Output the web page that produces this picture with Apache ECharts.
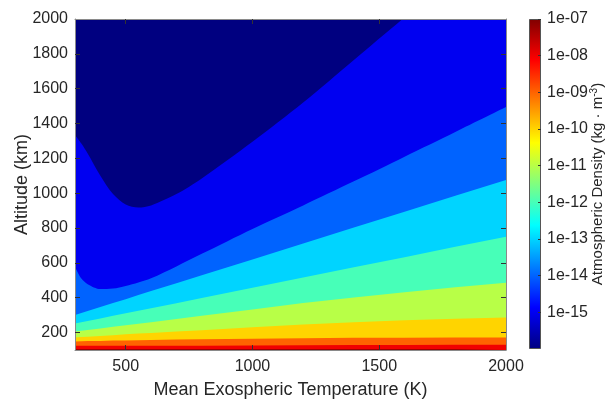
<!DOCTYPE html>
<html>
<head>
<meta charset="utf-8">
<script src="https://cdn.jsdelivr.net/npm/echarts@6/dist/echarts.min.js"></script>
<style>
  html, body { margin: 0; padding: 0; background: #ffffff; }
  #chart { width: 614px; height: 400px; }
</style>
</head>
<body>
<div id="chart"></div>
<script>
// Mean exospheric temperature samples (K)
const temperatures = [300, 325, 350, 400, 450, 500, 550, 600, 700, 800, 1000, 1200, 1400, 1600, 1800, 2000];

// Altitude (km) of each density contour at the temperatures above
const level1e15 = [1334, 1285, 1228, 1100, 995, 935, 918, 930, 995, 1085, 1295, 1520, 1765, 2010, 2260, 2510];
const level1e14 = [578, 510, 478, 450, 453, 468, 488, 512, 580, 652, 795, 930, 1068, 1210, 1352, 1495];
const level1e13 = [301, 312, 324, 347, 370, 392, 415, 438, 483, 529, 620, 712, 803, 894, 985, 1076];
const level1e12 = [252, 259, 267, 281, 296, 311, 325, 340, 369, 398, 457, 516, 575, 633, 692, 750];
const level1e11 = [206, 211, 215, 224, 233, 242, 251, 260, 278, 296, 333, 370, 401, 432, 460, 486];
const level1e10 = [172, 174, 176, 181, 185, 190, 194, 198, 206, 214, 230, 246, 260, 271, 280, 287];
const level1e09 = [149, 150, 151, 152, 154, 155, 156, 158, 160, 162, 165, 168, 170, 171, 172, 172];
const level1e08 = [124, 124, 124, 124, 124, 125, 125, 125, 125, 125, 126, 127, 128, 129, 130, 130];
const level1e07 = [105, 105, 105, 105, 105, 105, 105, 105, 105, 105, 105, 105, 105, 105, 105, 105];

// Axis ticks
const temperatureTicks = [500, 1000, 1500, 2000];
const altitudeTicks = [200, 400, 600, 800, 1000, 1200, 1400, 1600, 1800, 2000];
// Colour bar: decades above 1e-16
const colorbarTicks = ['1e-15', '1e-14', '1e-13', '1e-12', '1e-11', '1e-10', '1e-09', '1e-08', '1e-07'];

// Jet colormap sampled at each filled band (lowest density first)
const lowestBandColor = '#000080';
const bandColors = ['#0000F1', '#0063FF', '#00D4FF', '#47FFB8', '#B8FF47', '#FFD400', '#FF6300', '#F10000', '#800000'];
const jetStops = [
  { offset: 0, color: '#000080' },
  { offset: 0.125, color: '#0000FF' },
  { offset: 0.375, color: '#00FFFF' },
  { offset: 0.625, color: '#FFFF00' },
  { offset: 0.875, color: '#FF0000' },
  { offset: 1, color: '#800000' }
];

const contourLevels = [level1e15, level1e14, level1e13, level1e12, level1e11, level1e10, level1e09, level1e08, level1e07];

const textColor = '#262626';
const fontFamily = '"Liberation Sans", Arial, Helvetica, sans-serif';
const plainNumber = (v) => String(Math.round(v));

const chart = echarts.init(document.getElementById('chart'), null, { renderer: 'canvas' });

// Each contour is filled from its line down to the bottom of the plot;
// higher-density bands are painted over lower-density ones.
const bandSeries = contourLevels.map((alts, i) => ({
  type: 'line',
  xAxisIndex: 0,
  yAxisIndex: 0,
  data: temperatures.map((t, j) => [t, alts[j]]),
  symbol: 'none',
  smooth: i < 2 ? 0.3 : false,
  lineStyle: { width: 0, opacity: 0 },
  areaStyle: { color: bandColors[i], opacity: 1, origin: 'start' },
  silent: true,
  animation: false,
  z: 2
}));

const boxLine = { show: true, lineStyle: { color: '#8a8a8a', width: 1 } };
const innerTick = (values) => ({ show: true, inside: true, length: 5, customValues: values, lineStyle: { color: '#333333', width: 1 } });

chart.setOption({
  animation: false,
  textStyle: { fontFamily: fontFamily },
  grid: [
    { left: 75, right: 108, top: 19, bottom: 50, containLabel: false, outerBoundsMode: 'none',
      show: true, backgroundColor: lowestBandColor, borderWidth: 0 },
    { left: 529, width: 12, top: 19, bottom: 51, containLabel: false, outerBoundsMode: 'none' }
  ],
  xAxis: [
    {
      type: 'value', gridIndex: 0, min: 300, max: 2000, position: 'bottom', z: 10,
      axisLine: boxLine,
      axisTick: innerTick([500, 1000, 1500]),
      splitLine: { show: false },
      axisLabel: { customValues: temperatureTicks, formatter: plainNumber, color: textColor, fontSize: 16, margin: 9 },
      name: 'Mean Exospheric Temperature (K)', nameLocation: 'middle', nameGap: 31, nameMoveOverlap: false,
      nameTextStyle: { color: textColor, fontSize: 18 }
    },
    {
      type: 'value', gridIndex: 0, min: 300, max: 2000, position: 'top', z: 10,
      axisLine: boxLine,
      axisTick: innerTick([500, 1000, 1500]),
      splitLine: { show: false },
      axisLabel: { show: false }
    },
    {
      type: 'category', gridIndex: 1, data: ['density'], show: false
    }
  ],
  yAxis: [
    {
      type: 'value', gridIndex: 0, min: 100, max: 2000, position: 'left', z: 10,
      axisLine: boxLine,
      axisTick: innerTick(altitudeTicks.slice(0, -1)),
      splitLine: { show: false },
      axisLabel: { customValues: altitudeTicks, formatter: plainNumber, color: textColor, fontSize: 16, margin: 7 },
      name: 'Altitude (km)', nameLocation: 'middle', nameGap: 44, nameRotate: 90, nameMoveOverlap: false,
      nameTextStyle: { color: textColor, fontSize: 18 }
    },
    {
      type: 'value', gridIndex: 0, min: 100, max: 2000, position: 'right', z: 10,
      axisLine: boxLine,
      axisTick: innerTick(altitudeTicks.slice(0, -1)),
      splitLine: { show: false },
      axisLabel: { show: false }
    },
    {
      type: 'value', gridIndex: 1, min: 0, max: 9, position: 'right', z: 10,
      axisLine: { show: false },
      axisTick: { show: true, inside: true, length: 3, customValues: [1, 2, 3, 4, 5, 6, 7, 8, 9], lineStyle: { color: '#333333' } },
      splitLine: { show: false },
      axisLabel: {
        customValues: [1, 2, 3, 4, 5, 6, 7, 8, 9],
        formatter: (v) => colorbarTicks[Math.round(v) - 1] || '',
        color: textColor, fontSize: 16, margin: 6
      },
      name: 'Atmospheric Density (kg · m{sup|-3})',
      nameLocation: 'middle', nameGap: 48, nameRotate: 90, nameMoveOverlap: false,
      nameTextStyle: {
        color: textColor, fontSize: 15,
        rich: { sup: { fontSize: 10, color: textColor, padding: [0, 0, 8, 0] } }
      }
    }
  ],
  series: bandSeries.concat([
    {
      type: 'bar',
      xAxisIndex: 2,
      yAxisIndex: 2,
      data: [9],
      barWidth: '100%',
      silent: true,
      itemStyle: {
        color: { type: 'linear', x: 0, y: 1, x2: 0, y2: 0, colorStops: jetStops },
        borderColor: '#555555',
        borderWidth: 1
      }
    }
  ])
});
</script>
</body>
</html>
